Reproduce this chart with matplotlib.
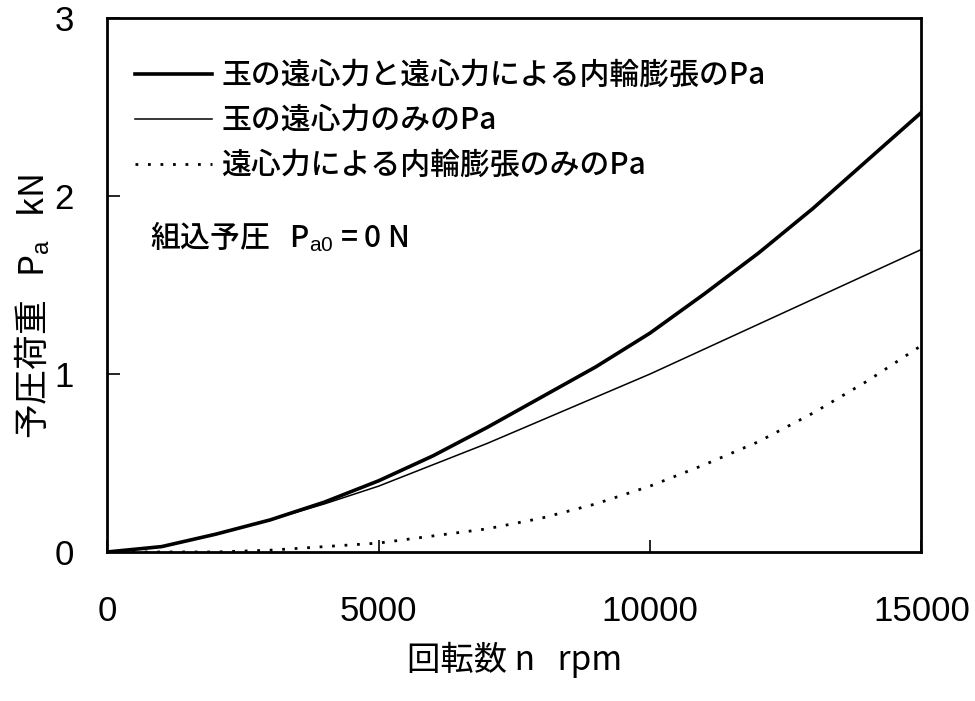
import numpy as np
import matplotlib
matplotlib.use("Agg")
from matplotlib import pyplot as plt

plt.rcParams['font.family'] = ['Noto Sans CJK JP', 'DejaVu Sans']
plt.rcParams['font.weight'] = 'medium'
plt.rcParams['mathtext.fontset'] = 'custom'
plt.rcParams['mathtext.rm'] = 'Liberation Sans'
plt.rcParams['mathtext.it'] = 'Liberation Sans'

# rotational speed, rpm
rpm = [0, 1000, 2000, 3000, 4000, 5000, 6000, 7000, 8000,
       9000, 10000, 11000, 12000, 13000, 14000, 15000]
# preload from ball centrifugal force + inner ring expansion, kN
pa_both = [0, 0.03, 0.10, 0.18, 0.28, 0.40, 0.54, 0.70, 0.87,
           1.04, 1.23, 1.45, 1.68, 1.93, 2.20, 2.47]
# ball centrifugal force only
pa_ball = [0, 0.03, 0.10, 0.18, 0.27, 0.37, 0.49, 0.61, 0.74,
           0.87, 1.00, 1.14, 1.28, 1.42, 1.56, 1.70]
# inner ring expansion only
pa_ring = [0, 0.0, 0.0, 0.01, 0.03, 0.05, 0.09, 0.13, 0.19,
           0.27, 0.37, 0.49, 0.62, 0.78, 0.96, 1.16]

labels = ["玉の遠心力と遠心力による内輪膨張のPa",
          "玉の遠心力のみのPa",
          "遠心力による内輪膨張のみのPa"]
xticks = [0, 5000, 10000, 15000]
yticks = [0, 1, 2, 3]

fig = plt.figure(figsize=(9.75, 7.01), dpi=100)
ax = fig.add_axes([0.110, 0.2126, 0.835, 0.7615])

ax.plot(rpm, pa_both, color='black', lw=2.6, label=labels[0])
ax.plot(rpm, pa_ball, color='black', lw=1.1, label=labels[1])
ax.plot(rpm, pa_ring, color='black', lw=2.0, dashes=(1, 3.5), label=labels[2])

ax.set_xlim(0, 15000)
ax.set_ylim(0, 3)
ax.set_xticks(xticks)
ax.set_yticks(yticks)
ax.set_xticklabels([str(v) for v in xticks], family='Liberation Sans',
                   fontsize=25, fontweight='normal')
ax.set_yticklabels([str(v) for v in yticks], family='Liberation Sans',
                   fontsize=25, fontweight='normal')
ax.tick_params(direction='in', length=9, width=1.2)
ax.tick_params(axis='x', pad=31)
ax.tick_params(axis='y', pad=24)
for s in ax.spines.values():
    s.set_linewidth(2.0)

ax.set_xlabel("回転数 n   rpm", fontsize=24)
ax.xaxis.set_label_coords(0.5, -0.168)
ax.set_ylabel("予圧荷重   P$_{\\mathrm{a}}$   kN", fontsize=25)
ax.yaxis.set_label_coords(-0.068, 0.46)

leg = ax.legend(loc='upper left', bbox_to_anchor=(0.02, 0.944), frameon=False,
                fontsize=21.5, handlelength=2.55, handletextpad=0.33,
                labelspacing=0.47, borderaxespad=0)

ax.text(0.053, 0.59, "組込予圧   P$_{\\mathrm{a0}}$ = 0 N", transform=ax.transAxes,
        fontsize=21.5, va='center', ha='left')

fig.savefig("out.png", dpi=100)
